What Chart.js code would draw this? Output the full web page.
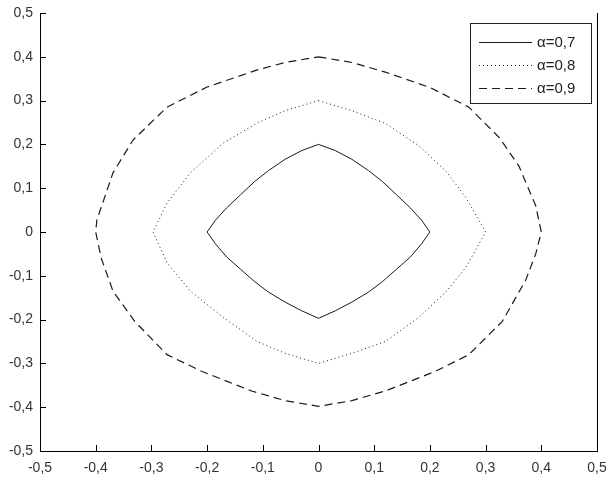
<!DOCTYPE html>
<html>
<head>
<meta charset="utf-8">
<script src="https://cdn.jsdelivr.net/npm/chart.js@4/dist/chart.umd.min.js"></script>
<style>
html,body{margin:0;padding:0;background:#fff;}
#wrap{width:606px;height:479px;position:relative;}
</style>
</head>
<body>
<div id="wrap"><canvas id="c" width="606" height="479"></canvas></div>
<script>
// Tick values (both axes)
const tickValues = [-0.5,-0.4,-0.3,-0.2,-0.1,0,0.1,0.2,0.3,0.4,0.5];
const seriesLabels = ['\u03b1=0,7', '\u03b1=0,8', '\u03b1=0,9'];

// alpha = 0.7 (solid)
const x07 = [0, 0.03, 0.06, 0.09, 0.115, 0.14, 0.165, 0.185, 0.20, 0.185, 0.165, 0.14, 0.115, 0.09, 0.06, 0.03, 0, -0.03, -0.06, -0.09, -0.115, -0.14, -0.165, -0.185, -0.20, -0.185, -0.165, -0.14, -0.115, -0.09, -0.06, -0.03, 0];
const y07 = [0.20, 0.186, 0.166, 0.14, 0.115, 0.085, 0.055, 0.027, 0, -0.027, -0.057, -0.085, -0.113, -0.137, -0.16, -0.18, -0.197, -0.18, -0.16, -0.137, -0.113, -0.085, -0.057, -0.027, 0, 0.027, 0.055, 0.085, 0.115, 0.14, 0.166, 0.186, 0.20];

// alpha = 0.8 (dotted)
const x08 = [0, 0.06, 0.12, 0.18, 0.23, 0.265, 0.30, 0.265, 0.23, 0.18, 0.12, 0.06, 0, -0.06, -0.11, -0.171, -0.23, -0.272, -0.297, -0.272, -0.23, -0.171, -0.11, -0.06, 0];
const y08 = [0.30, 0.277, 0.248, 0.197, 0.137, 0.078, 0, -0.08, -0.135, -0.195, -0.25, -0.277, -0.30, -0.277, -0.25, -0.195, -0.135, -0.07, 0, 0.066, 0.135, 0.203, 0.249, 0.277, 0.30];

// alpha = 0.9 (dashed)
const x09 = [0, 0.06, 0.12, 0.20, 0.27, 0.325, 0.36, 0.39, 0.40, 0.39, 0.372, 0.33, 0.27, 0.21, 0.12, 0.06, 0, -0.06, -0.12, -0.21, -0.272, -0.33, -0.369, -0.39, -0.40, -0.398, -0.369, -0.333, -0.272, -0.20, -0.11, -0.06, 0];
const y09 = [0.40, 0.387, 0.365, 0.33, 0.285, 0.215, 0.15, 0.06, 0, -0.05, -0.11, -0.204, -0.28, -0.318, -0.363, -0.385, -0.398, -0.385, -0.363, -0.318, -0.28, -0.204, -0.135, -0.06, 0, 0.027, 0.135, 0.21, 0.285, 0.331, 0.37, 0.387, 0.40];

function pts(xs, ys){ return xs.map((x,i)=>({x:x, y:ys[i]})); }
function fmt(v){ const r = Math.round(v*10)/10; return (r===0?'0':r.toFixed(1)).replace('.', ','); }

const AXIS = '#000000';
const FONTFAM = '"Liberation Sans", Arial, sans-serif';

const framePlugin = {
  id:'frameAndLegend',
  afterDraw(chart){
    const ctx = chart.ctx;
    const xs = chart.scales.x, ys = chart.scales.y;
    const a = chart.chartArea;
    ctx.save();
    ctx.globalAlpha = 1;
    ctx.globalCompositeOperation = 'source-over';
    ctx.fillStyle = AXIS;
    ctx.fillRect(a.left, a.top, 1, a.bottom - a.top + 1);
    ctx.fillRect(a.left, a.bottom, a.right - a.left + 1, 1);
    ctx.fillRect(a.right, a.top, 1, a.bottom - a.top + 1);
    for (let i = 0; i < tickValues.length; i++){
      const px = Math.round(xs.getPixelForValue(tickValues[i]));
      ctx.fillRect(px, a.bottom - 6, 1, 6);
      const py = Math.round(ys.getPixelForValue(tickValues[i]));
      ctx.fillRect(a.left, py, 6, 1);
    }
    // legend
    ctx.fillStyle = '#ffffff';
    ctx.fillRect(470, 23, 121, 80);
    ctx.strokeStyle = '#222222';
    ctx.lineWidth = 1;
    ctx.setLineDash([]);
    ctx.strokeRect(470.5, 23.5, 121, 80);
    const rows = [42.5, 65.5, 88.5];
    const dss = chart.data.datasets;
    for (let i = 0; i < dss.length; i++){
      const ds = dss[i];
      ctx.beginPath();
      ctx.strokeStyle = ds.borderColor;
      ctx.lineWidth = ds.borderWidth;
      ctx.setLineDash(ds.borderDash || []);
      ctx.moveTo(479, rows[i]); ctx.lineTo(532, rows[i]);
      ctx.stroke();
      ctx.setLineDash([]);
      ctx.fillStyle = '#222222';
      ctx.font = '15px ' + FONTFAM;
      ctx.textBaseline = 'middle';
      ctx.textAlign = 'left';
      ctx.fillText(ds.label, 537, rows[i]);
    }
    ctx.restore();
  }
};

new Chart(document.getElementById('c'), {
  type:'scatter',
  data:{datasets:[
    {label:seriesLabels[0], data:pts(x07,y07), showLine:true, borderColor:'#1a1a1a', borderWidth:1, pointRadius:0, borderDash:[]},
    {label:seriesLabels[1], data:pts(x08,y08), showLine:true, borderColor:'#1a1a1a', borderWidth:1, pointRadius:0, borderDash:[1,3]},
    {label:seriesLabels[2], data:pts(x09,y09), showLine:true, borderColor:'#1a1a1a', borderWidth:1.2, pointRadius:0, borderDash:[8,5]}
  ]},
  options:{
    responsive:false, animation:false,
    layout:{padding:{top:13, right:9, left:0, bottom:0}},
    plugins:{legend:{display:false}, tooltip:{enabled:false}},
    scales:{
      x:{type:'linear', position:'bottom', min:-0.5, max:0.5,
        afterBuildTicks(s){ s.ticks = tickValues.map(v=>({value:v})); },
        afterFit(s){ s.height = 28; s.paddingLeft = 0; s.paddingRight = 0; },
        grid:{display:false, drawTicks:false},
        border:{display:false},
        ticks:{callback:fmt, font:{family:FONTFAM, size:14}, color:'#333', padding:9, maxRotation:0, autoSkip:false}},
      y:{type:'linear', position:'left', min:-0.5, max:0.5,
        afterBuildTicks(s){ s.ticks = tickValues.map(v=>({value:v})); },
        afterFit(s){ s.width = 40; s.paddingTop = 0; s.paddingBottom = 0; },
        grid:{display:false, drawTicks:false},
        border:{display:false},
        ticks:{callback:fmt, font:{family:FONTFAM, size:14}, color:'#333', padding:7, autoSkip:false}}
    }
  },
  plugins:[framePlugin]
});
</script>
</body>
</html>
